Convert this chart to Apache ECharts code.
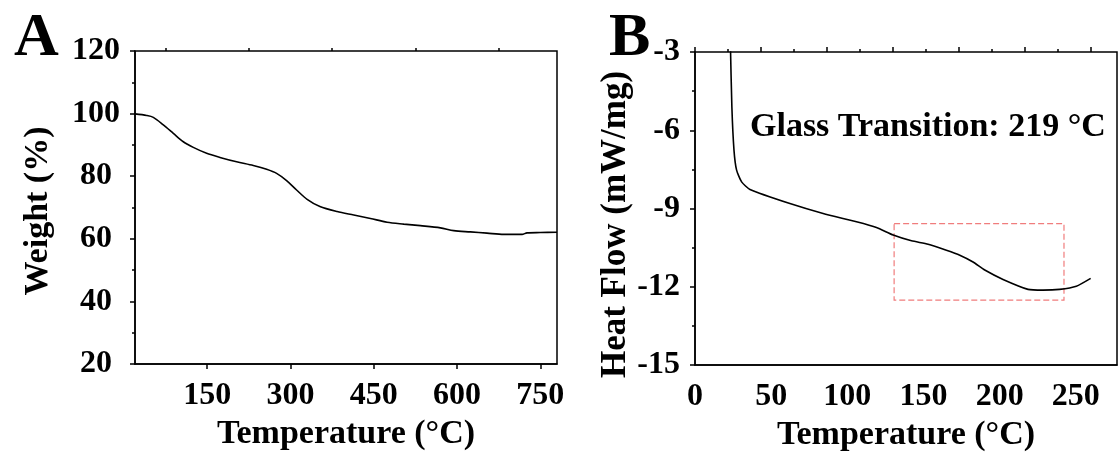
<!DOCTYPE html>
<html>
<head>
<meta charset="utf-8">
<script src="https://cdn.jsdelivr.net/npm/echarts@6/dist/echarts.min.js"></script>
<style>
  html, body { margin: 0; padding: 0; background: #fff; }
  #chart { width: 1118px; height: 461px; }
</style>
</head>
<body>
<div id="chart"></div>
<script>
// A: TGA curve
const tgaTemp = [20, 41, 53, 71, 89, 107, 125, 149, 173, 203, 233, 257, 275, 293, 311, 330, 353, 384, 414, 444, 474, 504, 534, 570, 594, 624, 654, 684, 717, 726, 750, 780];
const tgaWeight = [99.9, 99.4, 98.8, 96.4, 93.7, 91.0, 89.2, 87.3, 86.0, 84.6, 83.4, 82.2, 80.9, 78.6, 75.6, 72.6, 70.3, 68.7, 67.6, 66.5, 65.3, 64.7, 64.2, 63.5, 62.6, 62.2, 61.8, 61.4, 61.4, 61.9, 62.0, 62.1];
const tgaTicks = [150, 300, 450, 600, 750];
const tgaMinor = [75, 225, 375, 525, 675];

// B: DSC curve
const dscTemp = [23.2, 24.2, 25.6, 27.3, 30.6, 36.1, 62.3, 84.1, 106.0, 119.1, 130.1, 142.1, 153.0, 165.0, 173.8, 182.5, 190.2, 202.2, 218.6, 228.4, 239.3, 250.3, 259.7];
const dscFlow = [-2.6, -5.1, -6.77, -7.53, -7.98, -8.27, -8.81, -9.19, -9.51, -9.73, -10.02, -10.24, -10.37, -10.60, -10.79, -11.05, -11.36, -11.72, -12.10, -12.13, -12.10, -11.98, -11.68];
const dscLabels = [0, 50, 100, 150, 200, 250];
const dscMajor = [0, 50, 100, 150, 200, 250, 300];
const dscMinor = [25, 75, 125, 175, 225, 275];
const glassBox = [[130.7, -9.58], [242.2, -12.51]];
const glassNote = 'Glass Transition: 219 °C';

const serif = '"Liberation Serif", "Times New Roman", serif';
let chartDom = document.getElementById('chart');
let myChart = echarts.init(chartDom);

function txt(size) {
    return { fontFamily: serif, fontWeight: 'bold', fontSize: size, color: '#000' };
}
const blackLine = { color: '#000', width: 1.5 };

// axis that only draws a set of ticks
function tickAxis(grid, min, max, values, len) {
    return {
        gridIndex: grid, type: 'value', min: min, max: max,
        axisLine: { show: false },
        axisLabel: { show: false },
        splitLine: { show: false },
        axisTick: { customValues: values, length: len, lineStyle: blackLine }
    };
}

let option = {
    animation: false,
    grid: [
        { left: 135, top: 51, width: 422, height: 313, show: true, borderColor: '#000', borderWidth: 1.5 },
        { left: 695, top: 52, width: 422, height: 313, show: true, borderColor: '#000', borderWidth: 1.5 }
    ],
    xAxis: [
        {
            gridIndex: 0, type: 'value', min: 20, max: 780,
            axisLine: { lineStyle: blackLine },
            axisTick: { customValues: tgaTicks, length: 5, lineStyle: blackLine },
            axisLabel: Object.assign({ customValues: tgaTicks, margin: 16 }, txt(32)),
            splitLine: { show: false },
            name: 'Temperature (°C)', nameLocation: 'middle', nameGap: 53,
            nameTextStyle: txt(34)
        },
        tickAxis(0, 20, 780, tgaMinor, 3),
        {
            gridIndex: 1, type: 'value', min: 0, max: 277,
            axisLine: { lineStyle: blackLine },
            axisTick: { show: false },
            axisLabel: Object.assign({ customValues: dscLabels, margin: 16 }, txt(32)),
            splitLine: { show: false },
            name: 'Temperature (°C)', nameLocation: 'middle', nameGap: 53,
            nameTextStyle: txt(34)
        },
        tickAxis(1, 0, 320, dscMajor, 5),
        tickAxis(1, 0, 320, dscMinor, 3)
    ],
    yAxis: [
        {
            gridIndex: 0, type: 'value', min: 20, max: 120, interval: 20,
            axisLine: { lineStyle: blackLine },
            axisTick: { length: 5, lineStyle: blackLine },
            minorTick: { show: true, splitNumber: 2, length: 3, lineStyle: blackLine },
            axisLabel: Object.assign({ margin: 39, align: 'center' }, txt(32)),
            splitLine: { show: false },
            name: 'Weight (%)', nameLocation: 'middle', nameGap: 80,
            nameTextStyle: Object.assign({ padding: [0, 7, 0, 0] }, txt(34))
        },
        {
            gridIndex: 1, type: 'value', min: -15, max: -3, interval: 3,
            axisLine: { lineStyle: blackLine },
            axisTick: { length: 5, lineStyle: blackLine },
            minorTick: { show: true, splitNumber: 2, length: 3, lineStyle: blackLine },
            axisLabel: Object.assign({ margin: 15 }, txt(32)),
            splitLine: { show: false },
            name: 'Heat Flow (mW/mg)', nameLocation: 'middle', nameGap: 52,
            nameTextStyle: Object.assign({ padding: [0, 32, 0, 0] }, txt(35))
        }
    ],
    graphic: [
        { type: 'text', left: 14, top: 8, style: { text: 'A', font: 'bold 62px ' + serif, fill: '#000' } },
        { type: 'text', left: 609, top: 8, style: { text: 'B', font: 'bold 62px ' + serif, fill: '#000' } },
        { type: 'text', left: 750, top: 110, style: { text: glassNote, font: 'bold 34px ' + serif, fill: '#000' } }
    ],
    series: [
        {
            type: 'line', xAxisIndex: 0, yAxisIndex: 0,
            data: tgaTemp.map(function (t, i) { return [t, tgaWeight[i]]; }),
            showSymbol: false, smooth: 0.3,
            lineStyle: { color: '#000', width: 1.6 }
        },
        {
            type: 'line', xAxisIndex: 2, yAxisIndex: 1,
            data: dscTemp.map(function (t, i) { return [t, dscFlow[i]]; }),
            showSymbol: false, smooth: 0.2,
            lineStyle: { color: '#000', width: 1.6 },
            markArea: {
                silent: true,
                itemStyle: { color: 'rgba(0,0,0,0)', borderColor: '#f07c7c', borderWidth: 1.2, borderType: [6, 3] },
                data: [[{ coord: glassBox[0] }, { coord: glassBox[1] }]]
            }
        }
    ]
};

myChart.setOption(option);
window.addEventListener('resize', () => {
    myChart.resize();
});
</script>
</body>
</html>
